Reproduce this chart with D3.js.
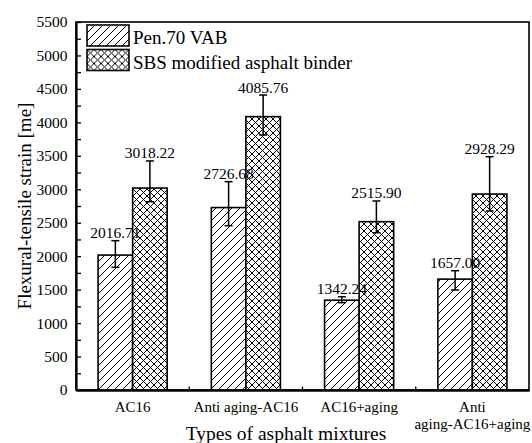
<!DOCTYPE html>
<html>
<head>
<meta charset="utf-8">
<script src="https://cdn.jsdelivr.net/npm/d3@7"></script>
<style>
  html, body { margin: 0; padding: 0; background: #fff; }
  svg { display: block; }
  text { font-family: "Liberation Serif", "Times New Roman", serif; fill: #000; }
</style>
</head>
<body>
<svg id="chart" width="532" height="443"></svg>
<script>
// Flexural-tensile strain by asphalt mixture type and binder
const categories = ["AC16", "Anti aging-AC16", "AC16+aging", "Anti\naging-AC16+aging"];
const series = ["Pen.70 VAB", "SBS modified asphalt binder"];
const penValues = [2016.71, 2726.68, 1342.24, 1657.00];
const sbsValues = [3018.22, 4085.76, 2515.90, 2928.29];
const penErrUp = [215, 387, 52, 126];
const penErrDown = [183, 271, 37, 162];
const sbsErrUp = [405, 323, 309, 559];
const sbsErrDown = [204, 275, 165, 253];
const yTicks = d3.range(0, 5501, 500);
const yMinorTicks = d3.range(250, 5500, 500);

const rows = [];
categories.forEach((c, i) => {
  rows.push({ cat: c, s: series[0], v: penValues[i], up: penErrUp[i], down: penErrDown[i] });
  rows.push({ cat: c, s: series[1], v: sbsValues[i], up: sbsErrUp[i], down: sbsErrDown[i] });
});

const svg = d3.select("#chart");
const m = { left: 76, right: 529, top: 22, bottom: 390 };

const x = d3.scaleBand().domain(categories).range([m.left, m.right]).paddingInner(0).paddingOuter(0);
const bw = x.bandwidth();
const xSub = d3.scaleBand().domain(series).range([bw * 0.195, bw * 0.805]).padding(0);
const y = d3.scaleLinear().domain([0, 5500]).range([m.bottom, m.top]);

// hatch fills
const defs = svg.append("defs");
const diag = defs.append("pattern").attr("id", "hatch-diag")
  .attr("patternUnits", "userSpaceOnUse").attr("width", 8).attr("height", 8);
diag.append("rect").attr("width", 8).attr("height", 8).attr("fill", "#fff");
diag.append("path").attr("d", "M-2,2 L2,-2 M0,8 L8,0 M6,10 L10,6")
  .attr("stroke", "#000").attr("stroke-width", 1);

const cross = defs.append("pattern").attr("id", "hatch-cross")
  .attr("patternUnits", "userSpaceOnUse").attr("width", 7).attr("height", 7);
cross.append("rect").attr("width", 7).attr("height", 7).attr("fill", "#fff");
cross.append("path").attr("d", "M-2,2 L2,-2 M0,7 L7,0 M5,9 L9,5 M-2,5 L2,9 M0,0 L7,7 M5,-2 L9,2")
  .attr("stroke", "#000").attr("stroke-width", 1);

const fillFor = s => s === series[0] ? "url(#hatch-diag)" : "url(#hatch-cross)";

// frame
svg.append("rect").attr("x", m.left).attr("y", m.top)
  .attr("width", m.right - m.left).attr("height", m.bottom - m.top)
  .attr("fill", "none").attr("stroke", "#000").attr("stroke-width", 1.6);

// bars
svg.append("g").selectAll("rect").data(rows).join("rect")
  .attr("x", d => x(d.cat) + xSub(d.s))
  .attr("y", d => y(d.v))
  .attr("width", xSub.bandwidth())
  .attr("height", d => y(0) - y(d.v))
  .attr("fill", d => fillFor(d.s))
  .attr("stroke", "#000").attr("stroke-width", 1.6);

// error bars
const cx = d => x(d.cat) + xSub(d.s) + xSub.bandwidth() / 2;
const eg = svg.append("g").attr("stroke", "#000").attr("stroke-width", 1.5);
eg.selectAll("line.v").data(rows).join("line").attr("class", "v")
  .attr("x1", cx).attr("x2", cx)
  .attr("y1", d => y(d.v + d.up)).attr("y2", d => y(d.v - d.down));
eg.selectAll("line.t").data(rows).join("line").attr("class", "t")
  .attr("x1", d => cx(d) - 4).attr("x2", d => cx(d) + 4)
  .attr("y1", d => y(d.v + d.up)).attr("y2", d => y(d.v + d.up));
eg.selectAll("line.b").data(rows).join("line").attr("class", "b")
  .attr("x1", d => cx(d) - 4).attr("x2", d => cx(d) + 4)
  .attr("y1", d => y(d.v - d.down)).attr("y2", d => y(d.v - d.down));

// value labels
const fmt = d3.format(".2f");
svg.append("g").selectAll("text").data(rows).join("text")
  .attr("x", cx).attr("y", d => y(d.v + d.up) - 2.5)
  .attr("text-anchor", "middle").attr("font-size", 15.5)
  .text(d => fmt(d.v));

// y axis
const yAxis = svg.append("g").attr("transform", `translate(${m.left},0)`)
  .call(d3.axisLeft(y).tickValues(yTicks).tickFormat(d3.format("d"))
    .tickSize(-5).tickSizeOuter(0).tickPadding(8.5));
yAxis.selectAll("text").attr("font-size", 15.5).attr("font-family", "Liberation Serif").attr("fill", "#000");
yAxis.select(".domain").attr("stroke-width", 2.2);
yAxis.selectAll(".tick line").attr("stroke-width", 1.3);
const yMinor = svg.append("g").attr("transform", `translate(${m.left},0)`)
  .call(d3.axisLeft(y).tickValues(yMinorTicks).tickFormat("").tickSize(-5).tickSizeOuter(0));
yMinor.select(".domain").remove();
yMinor.selectAll(".tick line").attr("stroke-width", 1.3);

// x axis
const xAxis = svg.append("g").attr("transform", `translate(0,${m.bottom})`)
  .call(d3.axisBottom(x).tickSize(0).tickSizeOuter(0).tickPadding(0).tickFormat(""));
xAxis.select(".domain").attr("stroke-width", 2.4);
xAxis.selectAll(".tick").each(function (c) {
  const lines = c.split("\n");
  const t = d3.select(this).append("text")
    .attr("text-anchor", "middle").attr("font-size", 15)
    .attr("font-family", "Liberation Serif").attr("fill", "#000");
  lines.forEach((ln, i) => {
    t.append("tspan").attr("x", 0).attr("y", 21.5 + i * 17.5).text(ln);
  });
});
// category separators
svg.append("g").selectAll("line").data(categories.slice(1)).join("line")
  .attr("x1", c => x(c)).attr("x2", c => x(c))
  .attr("y1", m.bottom).attr("y2", m.bottom - 3.5)
  .attr("stroke", "#000").attr("stroke-width", 1.3);

// axis titles
svg.append("text").attr("x", 286).attr("y", 440)
  .attr("text-anchor", "middle").attr("font-size", 19.5)
  .text("Types of asphalt mixtures");
svg.append("text")
  .attr("transform", `translate(31,${(m.top + m.bottom) / 2}) rotate(-90)`)
  .attr("text-anchor", "middle").attr("font-size", 19)
  .text("Flexural-tensile strain [me]");

// legend
const lg = svg.append("g").selectAll("g").data(series).join("g")
  .attr("transform", (d, i) => `translate(87,${25 + i * 24.5})`);
lg.append("rect").attr("width", 42).attr("height", 21)
  .attr("fill", d => fillFor(d)).attr("stroke", "#000").attr("stroke-width", 1.6);
lg.append("text").attr("x", 46).attr("y", 19).attr("font-size", 19).text(d => d);
</script>
</body>
</html>
